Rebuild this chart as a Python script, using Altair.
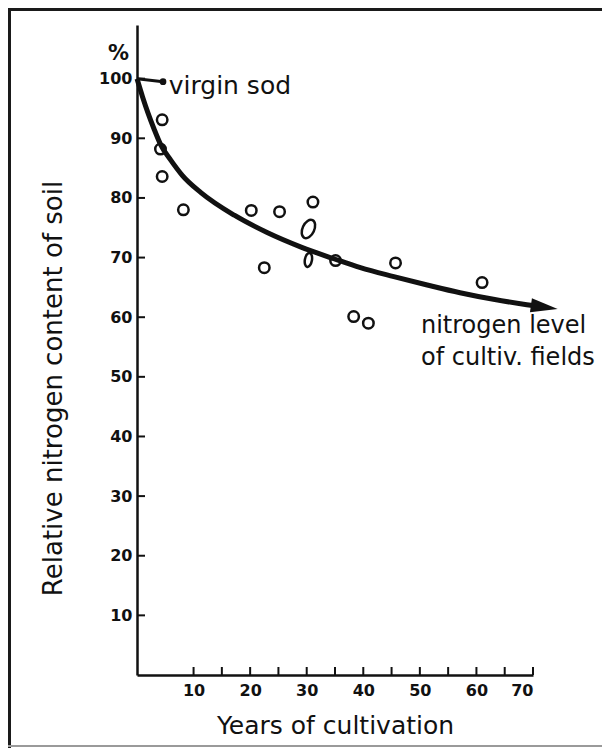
import altair as alt
import pandas as pd

# ---- data ----
years = [4.45, 4.15, 4.45, 8.2, 20.2, 25.2, 31.1, 22.5, 35.1, 45.7, 61.0, 38.3, 40.9]
nitrogen = [93.1, 88.2, 83.6, 78.0, 77.9, 77.7, 79.3, 68.3, 69.5, 69.1, 65.8, 60.1, 59.0]

big_oval_year = [30.3]
big_oval_n = [74.8]
small_oval_year = [30.3]
small_oval_n = [69.6]

curve_years = [0, 1, 2, 3, 4.2, 6, 8, 11.3, 17.2, 23.0, 28.9, 34.8, 39.5, 45.4, 51.3, 57.1, 63.0, 68.9, 72.0]
curve_n = [100, 96.9, 94.1, 91.6, 88.9, 86.3, 83.8, 80.9, 77.1, 74.2, 71.8, 69.8, 68.3, 66.8, 65.4, 64.1, 63.0, 62.1, 61.7]

arrow_year = [72.0]
arrow_n = [61.7]

sod_years = [0, 4.6]
sod_n = [100, 99.5]

x_label_values = [10, 20, 30, 40, 50, 60, 70]
x_tick_values = [10, 15, 20, 25, 30, 35, 40, 45, 50, 55, 60, 65, 70]
y_tick_values = [10, 20, 30, 40, 50, 60, 70, 80, 90, 100]

notes_text = ["virgin sod", "nitrogen level", "of cultiv. fields"]
notes_year = [5.6, 50.2, 50.2]
notes_n = [97.5, 57.4, 52.0]
notes_size = [25, 24, 24]

pct_text = ["%"]
pct_n = [103.1]

FONT = "DejaVu Sans"
INK = "#111111"

pts = pd.DataFrame({"year": years, "n": nitrogen})
big_oval = pd.DataFrame({"year": big_oval_year, "n": big_oval_n})
small_oval = pd.DataFrame({"year": small_oval_year, "n": small_oval_n})
curve = pd.DataFrame({"year": curve_years, "n": curve_n})
arrow = pd.DataFrame({"year": arrow_year, "n": arrow_n})
sod = pd.DataFrame({"year": sod_years, "n": sod_n})
xt = pd.DataFrame({"year": x_tick_values})
yt = pd.DataFrame({"n": y_tick_values})
notes = pd.DataFrame({"year": notes_year, "n": notes_n, "t": notes_text})
pct = pd.DataFrame({"n": pct_n, "t": pct_text})
one = pd.DataFrame({"a": [0]})

xscale = alt.Scale(domain=[0, 70], nice=False, zero=False)
yscale = alt.Scale(domain=[0, 109], nice=False, zero=False)

X = alt.X(
    "year:Q",
    scale=xscale,
    axis=alt.Axis(
        values=x_label_values, ticks=False, grid=False,
        domainColor=INK, domainWidth=2.5,
        labelFont=FONT, labelFontSize=16, labelFontWeight="bold", labelColor=INK,
        labelPadding=7,
        title="Years of cultivation", titleFont=FONT, titleFontSize=25,
        titleFontWeight="normal", titleColor=INK, titlePadding=15,
    ),
)
Y = alt.Y(
    "n:Q",
    scale=yscale,
    axis=alt.Axis(
        values=y_tick_values, ticks=False, grid=False,
        domainColor=INK, domainWidth=2.5,
        labelFont=FONT, labelFontSize=16, labelFontWeight="bold", labelColor=INK,
        labelPadding=5,
        title="Relative nitrogen content of soil", titleFont=FONT, titleFontSize=26,
        titleFontWeight="normal", titleColor=INK, titlePadding=32, titleY=363,
    ),
)
Xp = alt.X("year:Q", scale=xscale)
Yp = alt.Y("n:Q", scale=yscale)

points = alt.Chart(pts).mark_point(
    shape="circle", size=110, filled=False, stroke=INK, strokeWidth=2.5, opacity=1
).encode(x=X, y=Y)

big = alt.Chart(big_oval).mark_point(
    shape="M0,-1A0.6,1,0,1,1,0,1A0.6,1,0,1,1,0,-1Z", size=380, angle=25,
    filled=False, stroke=INK, strokeWidth=2.5, opacity=1
).encode(x=Xp, y=Yp)
small = alt.Chart(small_oval).mark_point(
    shape="M0,-1A0.5,1,0,1,1,0,1A0.5,1,0,1,1,0,-1Z", size=200, angle=10,
    filled=False, stroke=INK, strokeWidth=2.5, opacity=1
).encode(x=Xp, y=Yp)

line = alt.Chart(curve).mark_line(
    interpolate="monotone", color=INK, strokeWidth=5
).encode(x=Xp, y=Yp, order="year:Q")

head = alt.Chart(arrow).mark_point(
    shape="M-1,-0.52L1,0L-1,0.52Z", size=729, angle=8, filled=True, color=INK, opacity=1
).encode(x=Xp, y=Yp)

sod_line = alt.Chart(sod).mark_line(color=INK, strokeWidth=3).encode(x=Xp, y=Yp)
sod_dot = alt.Chart(sod.iloc[[1]]).mark_point(
    shape="circle", size=45, filled=True, color=INK, opacity=1
).encode(x=Xp, y=Yp)

xticks = alt.Chart(xt).mark_rule(color=INK, strokeWidth=2).encode(
    x=Xp, y=alt.value(650), y2=alt.value(642)
)
yticks = alt.Chart(yt).mark_rule(color=INK, strokeWidth=2).encode(
    y=Yp, x=alt.value(0), x2=alt.value(8)
)

note_virgin = alt.Chart(notes.iloc[[0]]).mark_text(
    align="left", baseline="alphabetic", font=FONT, fontSize=25, color=INK
).encode(x=Xp, y=Yp, text="t:N")
note_level = alt.Chart(notes.iloc[1:]).mark_text(
    align="left", baseline="alphabetic", font=FONT, fontSize=24, color=INK
).encode(x=Xp, y=Yp, text="t:N")

pct_mark = alt.Chart(pct).mark_text(
    align="right", baseline="alphabetic", font=FONT, fontSize=21, fontWeight="bold", color=INK
).encode(y=Yp, x=alt.value(-8), text="t:N")

frame_left = alt.Chart(one).mark_rule(color="#1a1a1a", strokeWidth=3).encode(
    x=alt.value(-127.5), y=alt.value(-17), y2=alt.value(723)
)
frame_top = alt.Chart(one).mark_rule(color="#1a1a1a", strokeWidth=3).encode(
    y=alt.value(-15.5), x=alt.value(-129), x2=alt.value(465)
)
frame_bottom = alt.Chart(one).mark_rule(color="#9a9a9a", strokeWidth=2).encode(
    y=alt.value(721), x=alt.value(-129), x2=alt.value(465)
)

chart = alt.layer(
    points, big, small, line, head, sod_line, sod_dot, xticks, yticks,
    note_virgin, note_level, pct_mark, frame_left, frame_top, frame_bottom
).properties(
    width=396, height=650,
    autosize=alt.AutoSizeParams(type="none"),
    padding={"left": 129, "top": 17, "right": 69, "bottom": 73},
    background="white",
).configure_view(stroke=None)

chart.save("out.html", embed_options={"renderer": "svg", "actions": False})
